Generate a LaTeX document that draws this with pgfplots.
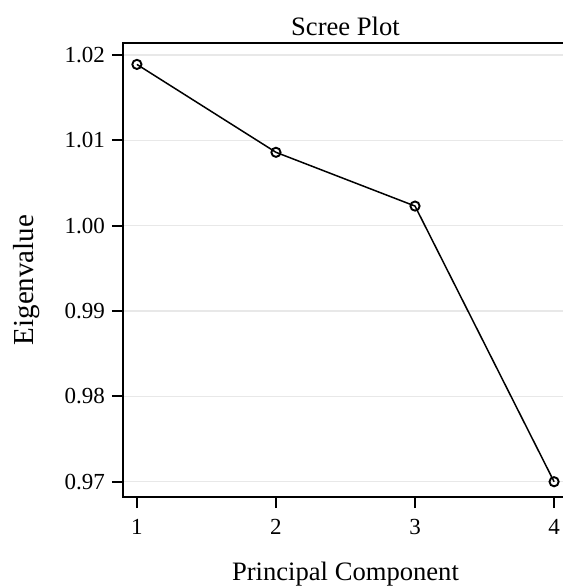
\documentclass[border=0pt]{standalone}
\usepackage{fontspec}
\setmainfont{Liberation Serif}
\usepackage{pgfplots}
\pgfplotsset{compat=1.18}

\definecolor{gridgray}{HTML}{E8E8E8}

\begin{document}
\begin{tikzpicture}
\begin{axis}[
    scale only axis,
    width=222.5pt,
    height=227pt,
    xmin=0.9, xmax=4.1,
    ymin=0.96821, ymax=1.02141,
    xtick={1,2,3,4},
    ytick={0.97,0.98,0.99,1.00,1.01,1.02},
    yticklabel style={/pgf/number format/.cd,fixed,fixed zerofill,precision=2},
    /pgf/number format/assume math mode=true,
    xtick pos=left, ytick pos=left,
    tick align=outside,
    major tick length=5.5pt,
    tick style={black, line width=1pt},
    axis line style={black, line width=1pt},
    ymajorgrids,
    grid style={gridgray, line width=0.6pt},
    ticklabel style={font=\fontsize{11.5}{13}\selectfont},
    xticklabel style={yshift=-2pt},
    title={Scree Plot},
    title style={font=\fontsize{13.3}{16}\selectfont, at={(axis description cs:0.5,1.0176)}, anchor=base, yshift=-6.5pt},
    xlabel={Principal Component},
    xlabel style={font=\fontsize{13.3}{16}\selectfont, at={(axis description cs:0.5,-0.1844)}, anchor=base},
    ylabel={Eigenvalue},
    ylabel style={font=\fontsize{14.5}{17}\selectfont, at={(axis description cs:-0.2022,0.478)}, anchor=base},
]
\addplot[black, line width=0.75pt, mark=o, mark size=2.3pt, mark options={line width=0.95pt}]
    coordinates {(1,1.0189) (2,1.0086) (3,1.0023) (4,0.9700)};
\end{axis}
\pgfresetboundingbox
\path[use as bounding box] (-61.5pt,-44.5pt) rectangle (220pt,248.5pt);
\end{tikzpicture}
\end{document}
